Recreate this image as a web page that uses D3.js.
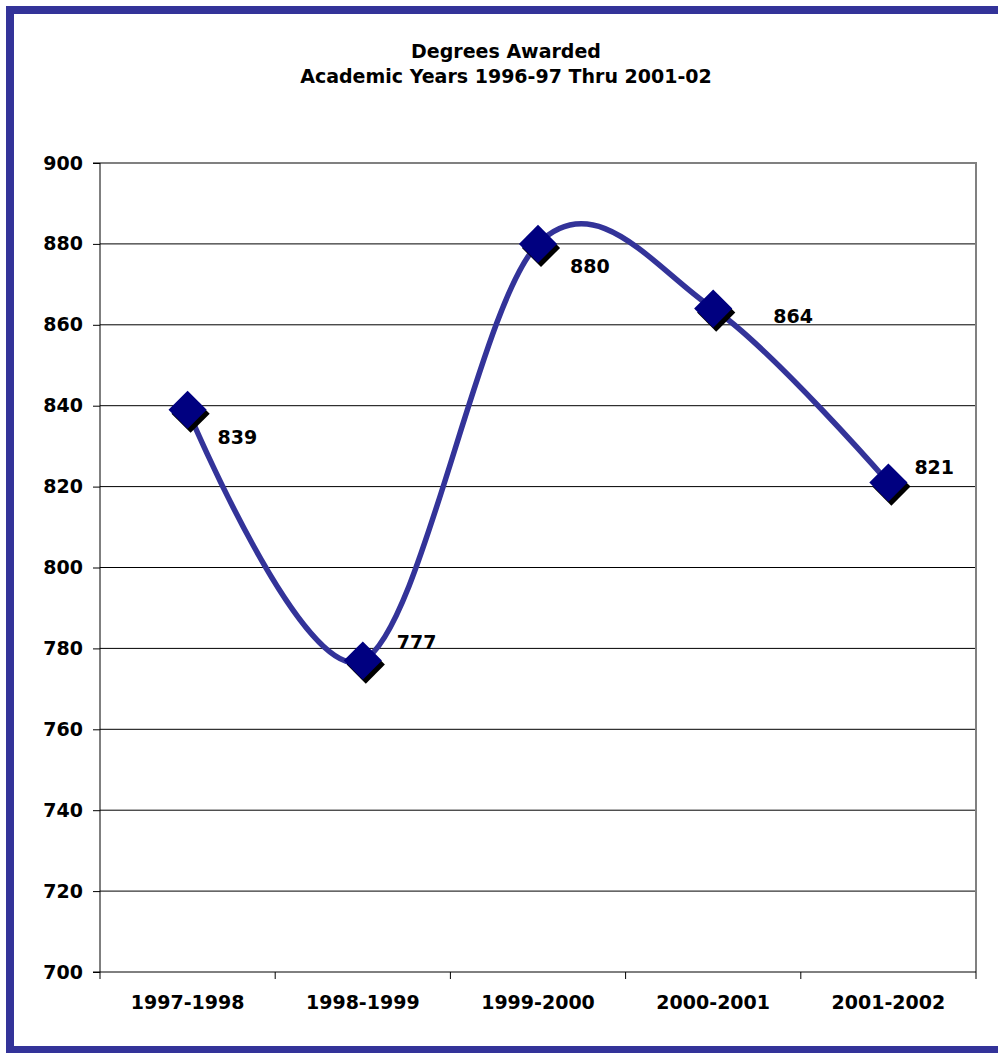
<!DOCTYPE html>
<html>
<head>
<meta charset="utf-8">
<script src="https://cdn.jsdelivr.net/npm/d3@7"></script>
<style>
  body { margin: 0; background: #fff; overflow: hidden; }
  svg { display: block; }
  svg text { font-family: "DejaVu Sans", Verdana, sans-serif; font-weight: bold; font-size: 19px; fill: #000; }
</style>
</head>
<body>
<svg id="chart" width="998" height="1053"></svg>
<script>
// chart data
var years = ["1997-1998", "1998-1999", "1999-2000", "2000-2001", "2001-2002"];
var degrees = [839, 777, 880, 864, 821];
var yTicks = [700, 720, 740, 760, 780, 800, 820, 840, 860, 880, 900];
var titleLines = ["Degrees Awarded", "Academic Years 1996-97 Thru 2001-02"];
// label nudges (px) relative to each point, as placed in the original
var labelDx = [30, 34, 32, 60, 26];
var labelDy = [28, -18, 22, 8, -15];

var svg = d3.select('#chart');
var W = 998, H = 1053;
var plot = { left: 100, top: 163, right: 976, bottom: 972 };

// outer frame
svg.append("rect")
    .attr("x", 10).attr("y", 10)
    .attr("width", W + 40).attr("height", 1040)
    .style("fill", "none")
    .style("stroke", "#333399")
    .style("stroke-width", 8);

// title
svg.append("g").selectAll("text")
    .data(titleLines)
    .enter()
    .append("text")
    .attr("x", 506)
    .attr("y", function(d, i) { return 58 + i * 25; })
    .attr("text-anchor", "middle")
    .text(function(d) { return d; });

var xScale = d3.scaleBand()
    .domain(years)
    .range([plot.left, plot.right]);

var yScale = d3.scaleLinear()
    .domain([700, 900])
    .range([plot.bottom, plot.top]);

// gridlines
svg.append("g").selectAll("line")
    .data(yTicks.slice(1, -1))
    .enter()
    .append("line")
    .attr("x1", plot.left).attr("x2", plot.right)
    .attr("y1", function(d) { return yScale(d); })
    .attr("y2", function(d) { return yScale(d); })
    .style("stroke", "#000")
    .style("stroke-width", 1);

// plot area border (top and right, grey)
svg.append("path")
    .attr("d", "M" + plot.left + "," + yScale(900) + "H" + plot.right + "V" + plot.bottom)
    .style("fill", "none")
    .style("stroke", "#808080")
    .style("stroke-width", 2);

// y axis
var yAxis = d3.axisLeft(yScale)
    .tickValues(yTicks)
    .tickSize(7)
    .tickPadding(10);
var gy = svg.append("g")
    .attr("transform", "translate(" + plot.left + ",0)")
    .call(yAxis);
gy.select(".domain").attr("d", "M-7," + plot.top + "H0V" + plot.bottom + "H-7");

// x axis
var xAxis = d3.axisBottom(xScale)
    .tickSize(0)
    .tickPadding(24);
var gx = svg.append("g")
    .attr("transform", "translate(0," + plot.bottom + ")")
    .call(xAxis);
gx.select(".domain").attr("d", "M" + plot.left + ",0H" + plot.right);
// category boundary ticks
gx.append("g").selectAll("line")
    .data(d3.range(years.length + 1))
    .enter()
    .append("line")
    .attr("x1", function(i) { return plot.left + i * xScale.step(); })
    .attr("x2", function(i) { return plot.left + i * xScale.step(); })
    .attr("y1", 0).attr("y2", 7)
    .style("stroke", "#000");

gx.attr("font-family", null).attr("font-size", null);
gy.attr("font-family", null).attr("font-size", null);
svg.selectAll(".tick line").style("stroke", "#000");
svg.selectAll(".domain").style("stroke", "#000");

// smoothed line
var pts = degrees.map(function(v, i) {
    return [xScale(years[i]) + xScale.bandwidth() / 2, yScale(v)];
});
var lineGen = d3.line().curve(d3.curveCardinal.tension(0));
svg.append("path")
    .attr("d", lineGen(pts))
    .style("fill", "none")
    .style("stroke", "#333399")
    .style("stroke-width", 5.5);

// markers with shadow
var diamond = d3.symbol().type(d3.symbolSquare).size(27 * 27);
var marks = svg.append("g").selectAll("g")
    .data(pts)
    .enter()
    .append("g");
marks.append("path")
    .attr("d", diamond)
    .attr("transform", function(d) { return "translate(" + (d[0] + 3) + "," + (d[1] + 4) + ") rotate(45)"; })
    .style("fill", "#000");
marks.append("path")
    .attr("d", diamond)
    .attr("transform", function(d) { return "translate(" + d[0] + "," + d[1] + ") rotate(45)"; })
    .style("fill", "#000080");

// value labels
svg.append("g").selectAll("text")
    .data(degrees)
    .enter()
    .append("text")
    .attr("x", function(d, i) { return pts[i][0] + labelDx[i]; })
    .attr("y", function(d, i) { return pts[i][1] + labelDy[i]; })
    .attr("dy", "0.35em")
    .text(function(d) { return d; });
</script>
</body>
</html>
